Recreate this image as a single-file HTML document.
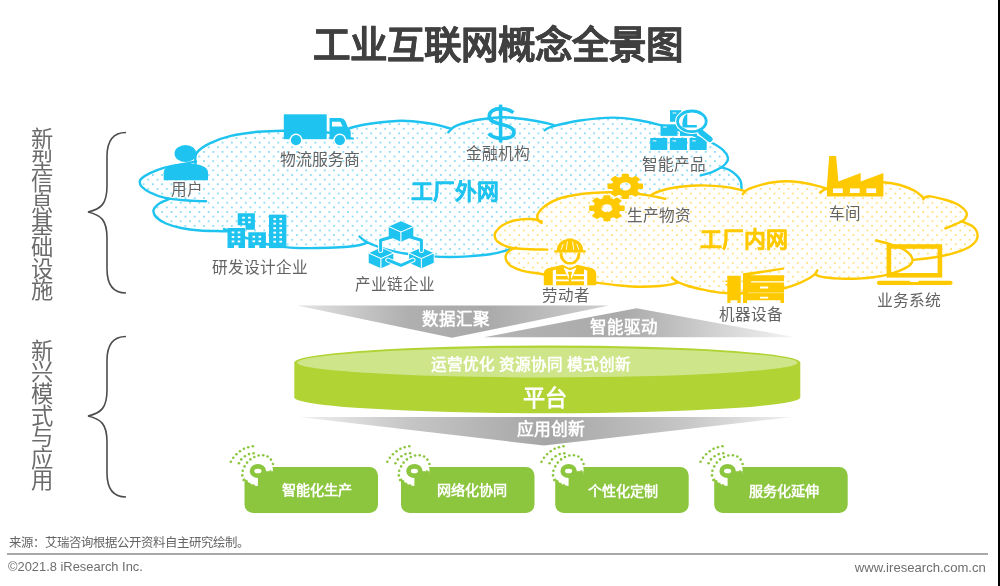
<!DOCTYPE html>
<html lang="zh-CN"><head><meta charset="utf-8"><title>工业互联网概念全景图</title>
<style>
html,body{margin:0;padding:0;background:#fff}
body{width:1000px;height:586px;position:relative;overflow:hidden;font-family:"Liberation Sans",sans-serif}
.t{position:absolute;transform:translate(-50%,-50%);white-space:nowrap;line-height:1}
.f{position:absolute;white-space:nowrap;line-height:1;font-size:12px;color:#6e6e6e}
#w{position:absolute;left:0;top:0;width:998px;height:586px;overflow:hidden;filter:blur(0.45px)}
</style></head><body>
<div id="w">
<svg width="1000" height="586" viewBox="0 0 1000 586" style="position:absolute;left:0;top:0">
<defs>
<pattern id="pb" x="222.56" y="170.37" width="9.29" height="9.25" patternUnits="userSpaceOnUse">
<g fill="#6bd2f3"><circle cx="0" cy="0" r="0.95"/><circle cx="9.29" cy="0" r="0.95"/><circle cx="0" cy="9.25" r="0.95"/><circle cx="9.29" cy="9.25" r="0.95"/><circle cx="4.645" cy="4.625" r="0.95"/></g></pattern>
<pattern id="py" x="221.8" y="170.37" width="9.29" height="9.25" patternUnits="userSpaceOnUse">
<g fill="#ffd95c"><circle cx="0" cy="0" r="0.95"/><circle cx="9.29" cy="0" r="0.95"/><circle cx="0" cy="9.25" r="0.95"/><circle cx="9.29" cy="9.25" r="0.95"/><circle cx="4.645" cy="4.625" r="0.95"/></g></pattern>
<linearGradient id="g1" x1="0" x2="1" y1="0" y2="0"><stop offset="0" stop-color="#e4e4e4"/><stop offset="0.35" stop-color="#b0b0b0"/><stop offset="0.6" stop-color="#a9a9a9"/><stop offset="1" stop-color="#d0d0d0"/></linearGradient>
<linearGradient id="g2" x1="0" x2="1" y1="0" y2="0"><stop offset="0" stop-color="#b4b4b4"/><stop offset="0.45" stop-color="#aaaaaa"/><stop offset="1" stop-color="#f4f4f4"/></linearGradient>
<linearGradient id="g3" x1="0" x2="1" y1="0" y2="0"><stop offset="0" stop-color="#f0f0f0"/><stop offset="0.22" stop-color="#c6c6c6"/><stop offset="0.5" stop-color="#a6a6a6"/><stop offset="0.78" stop-color="#c6c6c6"/><stop offset="1" stop-color="#f0f0f0"/></linearGradient>
</defs>
<path d="M126.0 132.5 C113.0 132.5 107.0 140.5 107.0 156.5 L107.0 186.0 C107.0 204.0 101.0 209.0 88.0 212.0 C101.0 215.0 107.0 220.0 107.0 238.0 L107.0 269.0 C107.0 285.0 113.0 293.0 126.0 293.0" fill="none" stroke="#4d4d4d" stroke-width="1.6"/>
<path d="M126.0 336.5 C113.0 336.5 107.0 344.5 107.0 360.5 L107.0 390.0 C107.0 408.0 101.0 413.0 88.0 416.0 C101.0 419.0 107.0 424.0 107.0 442.0 L107.0 473.0 C107.0 489.0 113.0 497.0 126.0 497.0" fill="none" stroke="#4d4d4d" stroke-width="1.6"/>
<path d="M181.0 164.5C175.5 167.0 168.9 166.4 163.7 167.8C158.5 169.2 153.7 171.4 150.0 173.2C146.3 175.0 143.2 177.0 141.5 178.5C139.8 180.0 139.8 180.7 139.8 182.0C139.8 183.3 139.8 184.8 141.5 186.5C143.2 188.2 146.1 190.6 150.0 192.5C153.9 194.4 159.2 196.5 165.0 197.8C170.8 199.1 185.8 199.4 185.0 200.3C184.2 201.2 165.1 201.7 160.0 203.0C154.9 204.3 155.6 206.5 154.5 208.0C153.4 209.5 153.2 210.4 153.5 212.0C153.8 213.6 154.4 215.6 156.5 217.5C158.6 219.4 161.9 221.8 166.0 223.5C170.1 225.2 175.3 226.8 181.0 228.0C186.7 229.2 193.2 230.0 200.0 230.5C206.8 231.0 216.7 230.9 222.0 231.2C227.3 231.4 228.2 230.9 232.0 232.0C235.8 233.1 240.0 235.7 245.0 237.5C250.0 239.3 255.2 241.4 262.0 243.0C268.8 244.6 278.8 246.2 286.0 247.1C293.2 247.9 297.7 248.0 305.0 248.1C312.3 248.2 322.8 248.0 330.0 247.8C337.2 247.6 343.0 247.3 348.0 246.8C353.0 246.3 356.0 245.4 360.0 245.0C364.0 244.6 367.8 243.7 372.0 244.4C376.2 245.1 379.5 247.5 385.0 249.0C390.5 250.5 397.0 252.3 405.0 253.5C413.0 254.7 425.5 255.8 433.0 256.4C440.5 257.0 444.2 257.0 450.0 257.0C455.8 257.0 461.3 256.8 468.0 256.4C474.7 255.9 483.8 255.2 490.0 254.3C496.2 253.4 500.8 252.0 505.0 250.8C509.2 249.6 499.2 249.1 515.0 247.3C530.8 245.5 562.3 248.6 600.0 240.0C637.7 231.4 717.4 203.8 741.0 196.0C764.6 188.2 741.4 194.2 741.5 193.0C741.6 191.8 741.6 190.4 741.5 188.5C741.4 186.6 741.5 183.5 740.7 181.3C739.9 179.1 738.5 177.3 736.6 175.4C734.7 173.5 731.9 171.3 729.4 170.0C726.9 168.7 722.6 170.6 721.6 167.3C720.6 164.0 725.1 154.4 723.4 150.3C721.7 146.2 715.4 144.6 711.5 142.5C707.6 140.4 704.4 139.8 700.0 138.0C695.6 136.2 691.3 134.1 685.0 132.0C678.7 129.9 669.5 127.4 662.0 125.5C654.5 123.6 648.1 121.8 640.0 120.5C631.9 119.2 623.5 117.6 613.5 117.6C603.5 117.6 590.2 119.0 580.0 120.5C569.8 122.0 557.8 126.2 552.0 126.6C546.2 127.0 548.7 123.9 545.0 122.8C541.3 121.7 536.0 120.9 530.0 120.0C524.0 119.1 514.8 117.9 508.8 117.5C502.8 117.1 500.1 117.2 494.0 117.8C487.9 118.4 478.5 119.6 472.0 121.0C465.5 122.4 459.5 125.4 455.0 126.4C450.5 127.4 449.2 127.5 445.0 127.0C440.8 126.5 437.2 124.5 430.0 123.5C422.8 122.5 412.0 120.7 402.0 120.7C392.0 120.7 378.3 122.6 370.0 123.7C361.7 124.8 361.7 126.2 352.0 127.5C342.3 128.8 323.4 130.7 312.0 131.2C300.6 131.7 292.5 130.6 283.5 130.7C274.5 130.8 266.9 130.9 258.0 131.8C249.1 132.7 238.1 134.3 230.0 136.2C221.9 138.1 215.3 140.6 209.7 143.4C204.1 146.2 201.4 149.5 196.6 153.0C191.8 156.5 186.5 162.0 181.0 164.5Z" fill="#fff"/>
<path d="M181.0 164.5C175.5 167.0 168.9 166.4 163.7 167.8C158.5 169.2 153.7 171.4 150.0 173.2C146.3 175.0 143.2 177.0 141.5 178.5C139.8 180.0 139.8 180.7 139.8 182.0C139.8 183.3 139.8 184.8 141.5 186.5C143.2 188.2 146.1 190.6 150.0 192.5C153.9 194.4 159.2 196.5 165.0 197.8C170.8 199.1 185.8 199.4 185.0 200.3C184.2 201.2 165.1 201.7 160.0 203.0C154.9 204.3 155.6 206.5 154.5 208.0C153.4 209.5 153.2 210.4 153.5 212.0C153.8 213.6 154.4 215.6 156.5 217.5C158.6 219.4 161.9 221.8 166.0 223.5C170.1 225.2 175.3 226.8 181.0 228.0C186.7 229.2 193.2 230.0 200.0 230.5C206.8 231.0 216.7 230.9 222.0 231.2C227.3 231.4 228.2 230.9 232.0 232.0C235.8 233.1 240.0 235.7 245.0 237.5C250.0 239.3 255.2 241.4 262.0 243.0C268.8 244.6 278.8 246.2 286.0 247.1C293.2 247.9 297.7 248.0 305.0 248.1C312.3 248.2 322.8 248.0 330.0 247.8C337.2 247.6 343.0 247.3 348.0 246.8C353.0 246.3 356.0 245.4 360.0 245.0C364.0 244.6 367.8 243.7 372.0 244.4C376.2 245.1 379.5 247.5 385.0 249.0C390.5 250.5 397.0 252.3 405.0 253.5C413.0 254.7 425.5 255.8 433.0 256.4C440.5 257.0 444.2 257.0 450.0 257.0C455.8 257.0 461.3 256.8 468.0 256.4C474.7 255.9 483.8 255.2 490.0 254.3C496.2 253.4 500.8 252.0 505.0 250.8C509.2 249.6 499.2 249.1 515.0 247.3C530.8 245.5 562.3 248.6 600.0 240.0C637.7 231.4 717.4 203.8 741.0 196.0C764.6 188.2 741.4 194.2 741.5 193.0C741.6 191.8 741.6 190.4 741.5 188.5C741.4 186.6 741.5 183.5 740.7 181.3C739.9 179.1 738.5 177.3 736.6 175.4C734.7 173.5 731.9 171.3 729.4 170.0C726.9 168.7 722.6 170.6 721.6 167.3C720.6 164.0 725.1 154.4 723.4 150.3C721.7 146.2 715.4 144.6 711.5 142.5C707.6 140.4 704.4 139.8 700.0 138.0C695.6 136.2 691.3 134.1 685.0 132.0C678.7 129.9 669.5 127.4 662.0 125.5C654.5 123.6 648.1 121.8 640.0 120.5C631.9 119.2 623.5 117.6 613.5 117.6C603.5 117.6 590.2 119.0 580.0 120.5C569.8 122.0 557.8 126.2 552.0 126.6C546.2 127.0 548.7 123.9 545.0 122.8C541.3 121.7 536.0 120.9 530.0 120.0C524.0 119.1 514.8 117.9 508.8 117.5C502.8 117.1 500.1 117.2 494.0 117.8C487.9 118.4 478.5 119.6 472.0 121.0C465.5 122.4 459.5 125.4 455.0 126.4C450.5 127.4 449.2 127.5 445.0 127.0C440.8 126.5 437.2 124.5 430.0 123.5C422.8 122.5 412.0 120.7 402.0 120.7C392.0 120.7 378.3 122.6 370.0 123.7C361.7 124.8 361.7 126.2 352.0 127.5C342.3 128.8 323.4 130.7 312.0 131.2C300.6 131.7 292.5 130.6 283.5 130.7C274.5 130.8 266.9 130.9 258.0 131.8C249.1 132.7 238.1 134.3 230.0 136.2C221.9 138.1 215.3 140.6 209.7 143.4C204.1 146.2 201.4 149.5 196.6 153.0C191.8 156.5 186.5 162.0 181.0 164.5Z" fill="url(#pb)"/>
<path d="M196.0 161.5C193.5 162.0 186.4 163.4 181.0 164.5C175.6 165.6 168.9 166.4 163.7 167.8C158.5 169.2 153.7 171.4 150.0 173.2C146.3 175.0 143.2 177.0 141.5 178.5C139.8 180.0 139.8 180.7 139.8 182.0C139.8 183.3 139.8 184.8 141.5 186.5C143.2 188.2 146.1 190.6 150.0 192.5C153.9 194.4 159.2 196.5 165.0 197.8C170.8 199.1 178.2 199.7 185.0 200.3C191.8 200.9 202.5 201.1 206.0 201.3" fill="none" stroke="#1fc3ef" stroke-width="2.4" stroke-linecap="round"/>
<path d="M195.5 164.0C195.7 162.2 194.2 156.4 196.6 153.0C199.0 149.6 204.1 146.2 209.7 143.4C215.3 140.6 221.9 138.1 230.0 136.2C238.1 134.3 249.1 132.7 258.0 131.8C266.9 130.9 274.5 130.8 283.5 130.7C292.5 130.6 302.9 130.7 312.0 131.2C321.1 131.7 333.7 133.1 338.0 133.5" fill="none" stroke="#1fc3ef" stroke-width="2.4" stroke-linecap="round"/>
<path d="M336.0 135.0C338.7 133.8 346.3 129.4 352.0 127.5C357.7 125.6 361.7 124.8 370.0 123.7C378.3 122.6 392.0 120.7 402.0 120.7C412.0 120.7 422.8 122.5 430.0 123.5C437.2 124.5 441.4 126.1 445.0 127.0C448.6 127.9 450.2 128.5 451.3 128.8" fill="none" stroke="#1fc3ef" stroke-width="2.4" stroke-linecap="round"/>
<path d="M448.3 132.3C449.4 131.3 451.1 128.3 455.0 126.4C458.9 124.5 465.5 122.4 472.0 121.0C478.5 119.6 487.9 118.4 494.0 117.8C500.1 117.2 502.8 117.1 508.8 117.5C514.8 117.9 524.0 119.1 530.0 120.0C536.0 120.9 541.1 122.0 545.0 122.8C548.9 123.6 552.2 124.6 553.6 125.0" fill="none" stroke="#1fc3ef" stroke-width="2.4" stroke-linecap="round"/>
<path d="M544.6 130.3C545.8 129.7 546.1 128.2 552.0 126.6C557.9 125.0 569.8 122.0 580.0 120.5C590.2 119.0 603.5 117.6 613.5 117.6C623.5 117.6 631.9 119.2 640.0 120.5C648.1 121.8 654.5 123.6 662.0 125.5C669.5 127.4 678.7 129.9 685.0 132.0C691.3 134.1 695.6 136.2 700.0 138.0C704.4 139.8 707.6 140.4 711.5 142.5C715.4 144.6 720.6 147.7 723.4 150.3C726.1 152.9 727.6 155.8 728.0 158.0C728.4 160.2 727.0 161.8 725.8 163.4C724.6 165.0 723.4 166.1 721.0 167.6C718.6 169.1 714.9 171.1 711.5 172.4C708.1 173.7 702.5 174.9 700.7 175.4" fill="none" stroke="#1fc3ef" stroke-width="2.4" stroke-linecap="round"/>
<path d="M721.6 167.3C722.9 167.8 726.9 168.7 729.4 170.0C731.9 171.3 734.7 173.5 736.6 175.4C738.5 177.3 739.9 179.1 740.7 181.3C741.5 183.5 741.4 186.6 741.5 188.5C741.6 190.4 741.5 192.2 741.5 193.0" fill="none" stroke="#1fc3ef" stroke-width="2.4" stroke-linecap="round"/>
<path d="M169.5 199.0C167.9 199.7 162.5 201.5 160.0 203.0C157.5 204.5 155.6 206.5 154.5 208.0C153.4 209.5 153.2 210.4 153.5 212.0C153.8 213.6 154.4 215.6 156.5 217.5C158.6 219.4 161.9 221.8 166.0 223.5C170.1 225.2 175.3 226.8 181.0 228.0C186.7 229.2 193.2 230.0 200.0 230.5C206.8 231.0 217.2 231.0 222.0 231.2C226.8 231.3 227.8 231.4 229.0 231.4" fill="none" stroke="#1fc3ef" stroke-width="2.4" stroke-linecap="round"/>
<path d="M224.0 229.0C225.3 229.5 228.5 230.6 232.0 232.0C235.5 233.4 240.0 235.7 245.0 237.5C250.0 239.3 255.2 241.4 262.0 243.0C268.8 244.6 278.8 246.2 286.0 247.1C293.2 247.9 297.7 248.0 305.0 248.1C312.3 248.2 322.8 248.0 330.0 247.8C337.2 247.6 343.0 247.3 348.0 246.8C353.0 246.3 356.8 245.7 360.0 245.0C363.2 244.3 366.2 243.0 367.5 242.6" fill="none" stroke="#1fc3ef" stroke-width="2.4" stroke-linecap="round"/>
<path d="M359.5 236.5C360.4 237.2 362.9 239.7 365.0 241.0C367.1 242.3 368.7 243.1 372.0 244.4C375.3 245.7 379.5 247.5 385.0 249.0C390.5 250.5 397.0 252.3 405.0 253.5C413.0 254.7 425.5 255.8 433.0 256.4C440.5 257.0 444.2 257.0 450.0 257.0C455.8 257.0 461.3 256.8 468.0 256.4C474.7 255.9 483.8 255.2 490.0 254.3C496.2 253.4 500.8 252.0 505.0 250.8C509.2 249.6 513.3 247.9 515.0 247.3" fill="none" stroke="#1fc3ef" stroke-width="2.4" stroke-linecap="round"/>
<path d="M531.2 219.0C527.2 220.1 518.8 219.4 514.0 220.5C509.2 221.6 505.2 223.7 502.2 225.6C499.1 227.5 496.9 230.2 495.7 232.0C494.5 233.8 494.5 234.9 494.8 236.5C495.1 238.1 495.7 239.9 497.5 241.5C499.3 243.1 502.9 244.9 505.6 246.0C508.4 247.1 513.4 247.4 514.0 248.2C514.6 249.0 510.4 249.8 509.0 251.0C507.6 252.2 506.2 253.9 505.8 255.5C505.4 257.1 505.5 258.8 506.3 260.5C507.1 262.2 507.8 264.0 510.5 265.7C513.2 267.4 518.6 269.6 522.7 270.8C526.8 272.0 530.8 272.3 535.0 273.0C539.2 273.7 542.2 274.0 548.0 275.0C553.8 276.0 562.0 277.7 570.0 279.0C578.0 280.3 587.7 281.5 596.0 282.6C604.3 283.7 612.7 284.8 620.0 285.5C627.3 286.2 633.3 286.7 640.0 286.8C646.7 286.9 655.0 286.4 660.0 286.0C665.0 285.6 667.5 285.6 670.0 284.6C672.5 283.7 673.3 280.6 675.0 280.3C676.7 280.0 677.8 282.1 680.0 283.0C682.2 283.9 684.7 285.0 688.0 286.0C691.3 287.0 696.0 288.1 700.0 289.0C704.0 289.9 707.7 290.8 712.0 291.5C716.3 292.2 719.4 292.8 726.0 293.0C732.6 293.2 744.1 293.3 751.4 293.0C758.7 292.7 764.4 292.1 770.0 291.3C775.6 290.5 780.2 289.4 785.2 288.0C790.2 286.6 795.9 284.5 800.0 282.8C804.1 281.1 807.5 279.3 810.0 277.8C812.5 276.3 813.3 274.2 815.0 274.0C816.7 273.8 818.2 275.8 820.0 276.4C821.8 277.0 822.7 277.1 826.0 277.5C829.3 277.9 834.7 278.4 840.0 278.6C845.3 278.8 852.2 278.9 858.0 278.6C863.8 278.3 869.5 277.8 875.0 277.0C880.5 276.2 885.7 275.2 890.7 273.8C895.7 272.4 901.6 269.9 905.0 268.3C908.4 266.7 909.8 265.6 911.0 264.0C912.2 262.4 913.0 260.9 912.5 259.0C912.0 257.1 910.4 254.5 908.0 252.5C905.6 250.5 902.1 248.5 898.4 246.9C894.7 245.3 881.1 241.1 886.0 243.0C890.9 244.9 918.8 256.0 928.0 258.2C937.2 260.4 937.5 256.8 941.5 256.0C945.5 255.2 948.7 254.6 952.0 253.7C955.3 252.8 958.7 251.7 961.4 250.7C964.1 249.7 966.0 249.0 968.0 247.8C970.0 246.6 972.3 245.0 973.7 243.7C975.1 242.4 976.0 241.2 976.6 239.8C977.2 238.4 977.7 236.9 977.6 235.3C977.5 233.8 977.2 232.1 976.3 230.5C975.4 228.9 974.7 227.5 972.2 226.0C969.7 224.5 962.5 222.8 961.4 221.5C960.2 220.2 964.4 219.5 965.3 218.4C966.2 217.3 966.7 216.2 966.8 215.0C966.9 213.8 966.9 212.8 966.0 211.5C965.1 210.2 963.2 208.3 961.4 206.9C959.6 205.5 957.6 204.3 955.0 203.2C952.4 202.0 950.0 201.1 946.0 200.0C942.0 198.9 935.8 197.8 930.7 196.4C925.6 195.0 920.5 193.2 915.4 191.3C910.3 189.4 905.3 186.5 900.0 185.0C894.7 183.5 889.2 182.5 883.4 182.2C877.6 181.9 871.4 182.6 865.0 183.0C858.6 183.4 851.2 183.7 845.0 184.5C838.8 185.3 831.2 187.3 828.0 188.0C824.8 188.7 828.1 188.9 826.0 188.5C823.9 188.1 819.7 186.3 815.4 185.3C811.1 184.3 805.1 183.0 800.0 182.3C794.9 181.6 790.0 181.2 785.0 181.3C780.0 181.4 774.7 182.0 770.0 182.8C765.3 183.6 760.7 184.9 756.9 186.1C753.1 187.2 751.5 189.4 747.3 189.7C743.1 190.0 737.3 188.5 731.8 187.9C726.2 187.3 719.6 186.3 714.0 185.9C708.4 185.5 704.5 185.2 698.0 185.5C691.5 185.8 681.3 186.6 675.0 187.5C668.7 188.4 664.2 189.7 660.0 191.0C655.8 192.3 654.7 195.2 650.0 195.6C645.3 196.0 638.3 193.9 632.0 193.3C625.7 192.8 618.7 192.4 612.0 192.3C605.3 192.2 598.2 192.6 592.0 193.0C585.8 193.4 580.7 194.0 575.0 195.0C569.3 196.0 563.0 197.2 558.0 199.0C553.0 200.8 548.4 203.5 545.0 206.0C541.6 208.5 540.1 211.8 537.8 214.0C535.5 216.2 535.2 217.9 531.2 219.0Z" fill="#fff"/>
<path d="M531.2 219.0C527.2 220.1 518.8 219.4 514.0 220.5C509.2 221.6 505.2 223.7 502.2 225.6C499.1 227.5 496.9 230.2 495.7 232.0C494.5 233.8 494.5 234.9 494.8 236.5C495.1 238.1 495.7 239.9 497.5 241.5C499.3 243.1 502.9 244.9 505.6 246.0C508.4 247.1 513.4 247.4 514.0 248.2C514.6 249.0 510.4 249.8 509.0 251.0C507.6 252.2 506.2 253.9 505.8 255.5C505.4 257.1 505.5 258.8 506.3 260.5C507.1 262.2 507.8 264.0 510.5 265.7C513.2 267.4 518.6 269.6 522.7 270.8C526.8 272.0 530.8 272.3 535.0 273.0C539.2 273.7 542.2 274.0 548.0 275.0C553.8 276.0 562.0 277.7 570.0 279.0C578.0 280.3 587.7 281.5 596.0 282.6C604.3 283.7 612.7 284.8 620.0 285.5C627.3 286.2 633.3 286.7 640.0 286.8C646.7 286.9 655.0 286.4 660.0 286.0C665.0 285.6 667.5 285.6 670.0 284.6C672.5 283.7 673.3 280.6 675.0 280.3C676.7 280.0 677.8 282.1 680.0 283.0C682.2 283.9 684.7 285.0 688.0 286.0C691.3 287.0 696.0 288.1 700.0 289.0C704.0 289.9 707.7 290.8 712.0 291.5C716.3 292.2 719.4 292.8 726.0 293.0C732.6 293.2 744.1 293.3 751.4 293.0C758.7 292.7 764.4 292.1 770.0 291.3C775.6 290.5 780.2 289.4 785.2 288.0C790.2 286.6 795.9 284.5 800.0 282.8C804.1 281.1 807.5 279.3 810.0 277.8C812.5 276.3 813.3 274.2 815.0 274.0C816.7 273.8 818.2 275.8 820.0 276.4C821.8 277.0 822.7 277.1 826.0 277.5C829.3 277.9 834.7 278.4 840.0 278.6C845.3 278.8 852.2 278.9 858.0 278.6C863.8 278.3 869.5 277.8 875.0 277.0C880.5 276.2 885.7 275.2 890.7 273.8C895.7 272.4 901.6 269.9 905.0 268.3C908.4 266.7 909.8 265.6 911.0 264.0C912.2 262.4 913.0 260.9 912.5 259.0C912.0 257.1 910.4 254.5 908.0 252.5C905.6 250.5 902.1 248.5 898.4 246.9C894.7 245.3 881.1 241.1 886.0 243.0C890.9 244.9 918.8 256.0 928.0 258.2C937.2 260.4 937.5 256.8 941.5 256.0C945.5 255.2 948.7 254.6 952.0 253.7C955.3 252.8 958.7 251.7 961.4 250.7C964.1 249.7 966.0 249.0 968.0 247.8C970.0 246.6 972.3 245.0 973.7 243.7C975.1 242.4 976.0 241.2 976.6 239.8C977.2 238.4 977.7 236.9 977.6 235.3C977.5 233.8 977.2 232.1 976.3 230.5C975.4 228.9 974.7 227.5 972.2 226.0C969.7 224.5 962.5 222.8 961.4 221.5C960.2 220.2 964.4 219.5 965.3 218.4C966.2 217.3 966.7 216.2 966.8 215.0C966.9 213.8 966.9 212.8 966.0 211.5C965.1 210.2 963.2 208.3 961.4 206.9C959.6 205.5 957.6 204.3 955.0 203.2C952.4 202.0 950.0 201.1 946.0 200.0C942.0 198.9 935.8 197.8 930.7 196.4C925.6 195.0 920.5 193.2 915.4 191.3C910.3 189.4 905.3 186.5 900.0 185.0C894.7 183.5 889.2 182.5 883.4 182.2C877.6 181.9 871.4 182.6 865.0 183.0C858.6 183.4 851.2 183.7 845.0 184.5C838.8 185.3 831.2 187.3 828.0 188.0C824.8 188.7 828.1 188.9 826.0 188.5C823.9 188.1 819.7 186.3 815.4 185.3C811.1 184.3 805.1 183.0 800.0 182.3C794.9 181.6 790.0 181.2 785.0 181.3C780.0 181.4 774.7 182.0 770.0 182.8C765.3 183.6 760.7 184.9 756.9 186.1C753.1 187.2 751.5 189.4 747.3 189.7C743.1 190.0 737.3 188.5 731.8 187.9C726.2 187.3 719.6 186.3 714.0 185.9C708.4 185.5 704.5 185.2 698.0 185.5C691.5 185.8 681.3 186.6 675.0 187.5C668.7 188.4 664.2 189.7 660.0 191.0C655.8 192.3 654.7 195.2 650.0 195.6C645.3 196.0 638.3 193.9 632.0 193.3C625.7 192.8 618.7 192.4 612.0 192.3C605.3 192.2 598.2 192.6 592.0 193.0C585.8 193.4 580.7 194.0 575.0 195.0C569.3 196.0 563.0 197.2 558.0 199.0C553.0 200.8 548.4 203.5 545.0 206.0C541.6 208.5 540.1 211.8 537.8 214.0C535.5 216.2 535.2 217.9 531.2 219.0Z" fill="url(#py)"/>
<path d="M541.5 221.3C539.8 220.9 535.8 219.1 531.2 219.0C526.6 218.9 518.8 219.4 514.0 220.5C509.2 221.6 505.2 223.7 502.2 225.6C499.1 227.5 496.9 230.2 495.7 232.0C494.5 233.8 494.5 234.9 494.8 236.5C495.1 238.1 495.7 239.9 497.5 241.5C499.3 243.1 502.9 244.9 505.6 246.0C508.4 247.1 509.9 247.7 514.0 248.2C518.1 248.7 524.4 249.0 530.0 249.2C535.6 249.4 544.5 249.5 547.4 249.6" fill="none" stroke="#ffc900" stroke-width="2.4" stroke-linecap="round"/>
<path d="M541.5 223.0C540.9 222.5 538.6 221.5 538.0 220.0C537.4 218.5 536.6 216.3 537.8 214.0C539.0 211.7 541.6 208.5 545.0 206.0C548.4 203.5 553.0 200.8 558.0 199.0C563.0 197.2 569.3 196.0 575.0 195.0C580.7 194.0 585.8 193.4 592.0 193.0C598.2 192.6 605.3 192.2 612.0 192.3C618.7 192.4 625.7 192.8 632.0 193.3C638.3 193.9 644.5 194.7 650.0 195.6C655.5 196.5 662.8 198.3 665.3 198.8" fill="none" stroke="#ffc900" stroke-width="2.4" stroke-linecap="round"/>
<path d="M651.0 195.0C652.5 194.3 656.0 192.2 660.0 191.0C664.0 189.8 668.7 188.4 675.0 187.5C681.3 186.6 691.5 185.8 698.0 185.5C704.5 185.2 708.4 185.5 714.0 185.9C719.6 186.3 726.6 187.1 731.8 187.9C737.0 188.8 742.8 190.5 745.0 191.0" fill="none" stroke="#ffc900" stroke-width="2.4" stroke-linecap="round"/>
<path d="M742.8 194.3C743.5 193.5 744.9 191.1 747.3 189.7C749.6 188.3 753.1 187.2 756.9 186.1C760.7 184.9 765.3 183.6 770.0 182.8C774.7 182.0 780.0 181.4 785.0 181.3C790.0 181.2 794.9 181.6 800.0 182.3C805.1 183.0 811.1 184.3 815.4 185.3C819.7 186.3 822.6 187.3 826.0 188.5C829.4 189.7 834.3 191.8 836.0 192.5" fill="none" stroke="#ffc900" stroke-width="2.4" stroke-linecap="round"/>
<path d="M820.0 192.5C821.3 191.8 823.8 189.3 828.0 188.0C832.2 186.7 838.8 185.3 845.0 184.5C851.2 183.7 858.6 183.4 865.0 183.0C871.4 182.6 877.6 181.9 883.4 182.2C889.2 182.5 894.7 183.5 900.0 185.0C905.3 186.5 911.6 189.2 915.4 191.3C919.2 193.4 921.7 196.5 923.0 197.5" fill="none" stroke="#ffc900" stroke-width="2.4" stroke-linecap="round"/>
<path d="M923.3 199.3C923.6 199.0 923.8 197.8 925.0 197.3C926.2 196.8 927.2 196.0 930.7 196.4C934.2 196.8 942.0 198.9 946.0 200.0C950.0 201.1 952.4 202.0 955.0 203.2C957.6 204.3 959.6 205.5 961.4 206.9C963.2 208.3 965.1 210.2 966.0 211.5C966.9 212.8 966.9 213.8 966.8 215.0C966.7 216.2 966.2 217.3 965.3 218.4C964.4 219.5 963.3 220.4 961.4 221.5C959.5 222.6 956.7 223.7 954.0 224.8C951.3 226.0 946.8 227.8 945.3 228.4" fill="none" stroke="#ffc900" stroke-width="2.4" stroke-linecap="round"/>
<path d="M962.0 221.3C963.7 222.1 969.8 224.5 972.2 226.0C974.6 227.5 975.4 228.9 976.3 230.5C977.2 232.1 977.5 233.8 977.6 235.3C977.7 236.9 977.2 238.4 976.6 239.8C976.0 241.2 975.1 242.4 973.7 243.7C972.3 245.0 970.0 246.6 968.0 247.8C966.0 249.0 964.1 249.7 961.4 250.7C958.7 251.7 955.3 252.8 952.0 253.7C948.7 254.6 945.5 255.2 941.5 256.0C937.5 256.8 932.6 257.6 928.0 258.2C923.4 258.8 916.2 259.6 913.8 259.9" fill="none" stroke="#ffc900" stroke-width="2.4" stroke-linecap="round"/>
<path d="M876.0 240.5C877.7 240.9 882.3 241.9 886.0 243.0C889.7 244.1 894.7 245.3 898.4 246.9C902.1 248.5 905.6 250.5 908.0 252.5C910.4 254.5 912.0 257.1 912.5 259.0C913.0 260.9 912.2 262.4 911.0 264.0C909.8 265.6 908.4 266.7 905.0 268.3C901.6 269.9 895.7 272.4 890.7 273.8C885.7 275.2 880.5 276.2 875.0 277.0C869.5 277.8 863.8 278.3 858.0 278.6C852.2 278.9 845.3 278.8 840.0 278.6C834.7 278.4 829.3 277.9 826.0 277.5C822.7 277.1 821.7 276.8 820.0 276.4C818.3 275.9 816.7 275.1 816.0 274.8" fill="none" stroke="#ffc900" stroke-width="2.4" stroke-linecap="round"/>
<path d="M817.3 270.3C816.9 270.9 816.2 272.8 815.0 274.0C813.8 275.2 812.5 276.3 810.0 277.8C807.5 279.3 804.1 281.1 800.0 282.8C795.9 284.5 790.2 286.6 785.2 288.0C780.2 289.4 775.6 290.5 770.0 291.3C764.4 292.1 758.7 292.7 751.4 293.0C744.1 293.3 732.6 293.2 726.0 293.0C719.4 292.8 716.3 292.2 712.0 291.5C707.7 290.8 704.0 289.9 700.0 289.0C696.0 288.1 691.3 287.0 688.0 286.0C684.7 285.0 682.2 283.9 680.0 283.0C677.8 282.1 676.3 281.2 675.0 280.3C673.7 279.4 672.5 278.2 672.0 277.8" fill="none" stroke="#ffc900" stroke-width="2.4" stroke-linecap="round"/>
<path d="M516.0 247.5C514.8 248.1 510.7 249.7 509.0 251.0C507.3 252.3 506.2 253.9 505.8 255.5C505.4 257.1 505.5 258.8 506.3 260.5C507.1 262.2 507.8 264.0 510.5 265.7C513.2 267.4 518.6 269.6 522.7 270.8C526.8 272.0 530.8 272.3 535.0 273.0C539.2 273.7 542.2 274.0 548.0 275.0C553.8 276.0 562.0 277.7 570.0 279.0C578.0 280.3 587.7 281.5 596.0 282.6C604.3 283.7 612.7 284.8 620.0 285.5C627.3 286.2 633.3 286.7 640.0 286.8C646.7 286.9 655.0 286.4 660.0 286.0C665.0 285.6 667.0 285.2 670.0 284.6C673.0 284.0 676.5 282.9 677.8 282.6" fill="none" stroke="#ffc900" stroke-width="2.4" stroke-linecap="round"/>
<g fill="#1fc3ef"><ellipse cx="185.5" cy="153.5" rx="11" ry="8.6"/><path d="M163.7 180.2V172.5C163.7 166.5 173 163.6 186 163.6C199 163.6 208 166.5 208 172.5V180.2Z"/></g>
<g fill="#1fc3ef"><rect x="283.8" y="114.3" width="42.9" height="24.9"/><path d="M329.5 139.2V118H340.5Q344.5 118.3 346 122.5L348.3 128.5L350.7 131V137.3L354 137.8V139.4Z"/><path d="M332 121.8H340.3L342.6 126.4H332Z" fill="#fff"/><circle cx="296" cy="140" r="6.4" fill="#fff"/><circle cx="339.8" cy="140" r="6.4" fill="#fff"/><circle cx="296" cy="140.2" r="5.1"/><circle cx="339.8" cy="140.2" r="5.1"/></g>
<g fill="none" stroke="#1fc3ef" stroke-width="3.7"><path d="M513.4 112.6C509.5 109.6 505 108.6 500.6 108.6C493.6 108.6 489.3 111.8 489.3 116.2C489.3 121 494.3 122.6 501.3 124.2C508.3 125.8 514 127.8 514 132.4C514 136.6 508.5 138.5 502 138.5C496.2 138.5 491.6 136.8 488.6 133.6"/><path d="M500.6 104.6V142.4" stroke-width="3.6"/></g>
<rect x="650.2" y="138.0" width="17.1" height="12.0" fill="#1fc3ef"/><rect x="652.8" y="140.0" width="3.6" height="1.6" fill="#a9e7f9"/><rect x="669.9" y="138.0" width="17.1" height="12.0" fill="#1fc3ef"/><rect x="672.5" y="140.0" width="3.6" height="1.6" fill="#a9e7f9"/><rect x="689.6" y="138.0" width="17.1" height="12.0" fill="#1fc3ef"/><rect x="692.2" y="140.0" width="3.6" height="1.6" fill="#a9e7f9"/><rect x="660.5" y="124.3" width="17.0" height="11.6" fill="#1fc3ef"/><rect x="663.1" y="126.3" width="3.6" height="1.6" fill="#a9e7f9"/><rect x="680.0" y="124.3" width="17.0" height="11.6" fill="#1fc3ef"/><rect x="682.6" y="126.3" width="3.6" height="1.6" fill="#a9e7f9"/><rect x="670.0" y="110.2" width="11.4" height="11.6" fill="#1fc3ef"/><rect x="672.6" y="112.2" width="3.6" height="1.6" fill="#a9e7f9"/>
<path d="M700 131.5L710 139.5" stroke="#fff" stroke-width="8" stroke-linecap="round"/>
<ellipse cx="691.9" cy="121.3" rx="16.8" ry="12.6" fill="#fff"/>
<ellipse cx="691.9" cy="121.3" rx="14.3" ry="10.3" fill="#fff" stroke="#1fc3ef" stroke-width="2.8"/>
<path d="M701 132.2L709.8 139.3" stroke="#1fc3ef" stroke-width="5.6" stroke-linecap="round"/>
<path d="M687.3 113.5V125H696.8V127.4H682.5Q681.5 117 687.3 113.5Z" fill="#1fc3ef"/>
<g fill="#1fc3ef"><path d="M237.7 213.3H254.9V229.7H245.5V225.2H237.7Z"/><path d="M227.5 227.9H245V248.1H238.5V245.3H234V248.1H227.5Z"/><path d="M248.3 232.3H265.9V248.1H259.3V245.3H254.9V248.1H248.3Z"/><rect x="269" y="214.6" width="17.4" height="33.5"/></g><rect x="242.2" y="216.8" width="2.6" height="1.9" fill="#fff"/><rect x="248.1" y="216.8" width="2.6" height="1.9" fill="#fff"/><rect x="242.2" y="221.3" width="2.6" height="1.9" fill="#fff"/><rect x="248.1" y="221.3" width="2.6" height="1.9" fill="#fff"/><rect x="231.7" y="231.5" width="2.6" height="1.9" fill="#fff"/><rect x="237.7" y="231.5" width="2.6" height="1.9" fill="#fff"/><rect x="231.7" y="236.0" width="2.6" height="1.9" fill="#fff"/><rect x="237.7" y="236.0" width="2.6" height="1.9" fill="#fff"/><rect x="231.7" y="240.5" width="2.6" height="1.9" fill="#fff"/><rect x="237.7" y="240.5" width="2.6" height="1.9" fill="#fff"/><rect x="252.5" y="235.8" width="2.6" height="1.9" fill="#fff"/><rect x="258.5" y="235.8" width="2.6" height="1.9" fill="#fff"/><rect x="252.5" y="240.3" width="2.6" height="1.9" fill="#fff"/><rect x="258.5" y="240.3" width="2.6" height="1.9" fill="#fff"/><rect x="273.4" y="218.2" width="2.6" height="1.9" fill="#fff"/><rect x="279.4" y="218.2" width="2.6" height="1.9" fill="#fff"/><rect x="273.4" y="222.7" width="2.6" height="1.9" fill="#fff"/><rect x="279.4" y="222.7" width="2.6" height="1.9" fill="#fff"/><rect x="273.4" y="227.2" width="2.6" height="1.9" fill="#fff"/><rect x="279.4" y="227.2" width="2.6" height="1.9" fill="#fff"/><rect x="273.4" y="231.7" width="2.6" height="1.9" fill="#fff"/><rect x="279.4" y="231.7" width="2.6" height="1.9" fill="#fff"/><rect x="273.4" y="236.2" width="2.6" height="1.9" fill="#fff"/><rect x="279.4" y="236.2" width="2.6" height="1.9" fill="#fff"/><rect x="273.4" y="240.7" width="2.6" height="1.9" fill="#fff"/><rect x="279.4" y="240.7" width="2.6" height="1.9" fill="#fff"/>
<g stroke="#fff" stroke-width="0.9" stroke-linejoin="round" fill="#1fc3ef"><path d="M381.0 247.2L393.8 252.9L381.0 258.6L368.2 252.9Z"/><path d="M368.2 252.9L381.0 258.6L381.0 268.8L368.2 263.1Z"/><path d="M393.8 252.9L381.0 258.6L381.0 268.8L393.8 263.1Z"/></g><g stroke="#fff" stroke-width="0.9" stroke-linejoin="round" fill="#1fc3ef"><path d="M421.4 247.2L434.2 252.9L421.4 258.6L408.6 252.9Z"/><path d="M408.6 252.9L421.4 258.6L421.4 268.8L408.6 263.1Z"/><path d="M434.2 252.9L421.4 258.6L421.4 268.8L434.2 263.1Z"/></g><path d="M395 236L380.6 240.3V250.5" fill="none" stroke="#fff" stroke-width="5" stroke-linecap="round" stroke-linejoin="round"/><path d="M407 236L421.4 240.3V250.5" fill="none" stroke="#fff" stroke-width="5" stroke-linecap="round" stroke-linejoin="round"/><path d="M387.8 260L401 265.3L413 260" fill="none" stroke="#fff" stroke-width="5" stroke-linecap="round" stroke-linejoin="round"/><g stroke="#fff" stroke-width="0.9" stroke-linejoin="round" fill="#1fc3ef"><path d="M401.0 220.7L413.8 226.4L401.0 232.1L388.2 226.4Z"/><path d="M388.2 226.4L401.0 232.1L401.0 242.3L388.2 236.6Z"/><path d="M413.8 226.4L401.0 232.1L401.0 242.3L413.8 236.6Z"/></g><path d="M395 236L380.6 240.3V250.5" fill="none" stroke="#1fc3ef" stroke-width="3" stroke-linecap="round" stroke-linejoin="round"/><path d="M407 236L421.4 240.3V250.5" fill="none" stroke="#1fc3ef" stroke-width="3" stroke-linecap="round" stroke-linejoin="round"/><path d="M387.8 260L401 265.3L413 260" fill="none" stroke="#1fc3ef" stroke-width="3" stroke-linecap="round" stroke-linejoin="round"/>
<path d="M638.0 184.3L642.3 184.4L642.3 188.2L638.0 188.3L636.4 191.1L639.2 193.3L635.4 195.9L632.2 194.0L628.3 195.1L628.0 198.1L622.6 198.1L622.3 195.1L618.4 194.0L615.2 195.9L611.4 193.3L614.2 191.1L612.6 188.3L608.3 188.2L608.3 184.4L612.6 184.3L614.2 181.5L611.4 179.3L615.2 176.7L618.4 178.6L622.3 177.5L622.6 174.5L628.0 174.5L628.3 177.5L632.2 178.6L635.4 176.7L639.2 179.3L636.4 181.5ZM619.0 186.3A6.3 4.9 0 1 0 631.6 186.3A6.3 4.9 0 1 0 619.0 186.3Z" fill="#ffc900" fill-rule="evenodd" stroke="#ffc900" stroke-width="1.6" stroke-linejoin="round"/>
<path d="M619.6 206.1L623.9 206.3L623.9 210.1L619.6 210.3L618.0 213.2L620.8 215.5L617.0 218.2L613.8 216.2L609.9 217.4L609.6 220.4L604.2 220.4L603.9 217.4L600.0 216.2L596.8 218.2L593.0 215.5L595.8 213.2L594.2 210.3L589.9 210.1L589.9 206.3L594.2 206.1L595.8 203.2L593.0 200.9L596.8 198.2L600.0 200.2L603.9 199.0L604.2 196.0L609.6 196.0L609.9 199.0L613.8 200.2L617.0 198.2L620.8 200.9L618.0 203.2ZM600.6 208.2A6.3 4.8 0 1 0 613.2 208.2A6.3 4.8 0 1 0 600.6 208.2Z" fill="#ffc900" fill-rule="evenodd" stroke="#ffc900" stroke-width="1.6" stroke-linejoin="round"/>
<g fill="#ffc900"><path d="M554.3 252.4H585.7V250.2H583.2C583 243.5 578 239.6 573 239.2V238.6H567V239.2C562 239.6 557 243.5 556.8 250.2H554.3Z"/><path d="M559.5 252.4C559.5 259.5 564 264.6 570 264.6C576 264.6 580.5 259.5 580.5 252.4H577.6C577.6 258 574.5 262 570 262C565.5 262 562.4 258 562.4 252.4Z"/><path d="M543.8 285.2V274C543.8 270.5 546 268.8 549 268L562.5 264.8L570 268.3L577.5 264.8L591 268C594 268.8 596.2 270.5 596.2 274V285.2Z"/></g><path d="M552.8 285.2V270.5L556 269.5V285.2ZM584 285.2V269.5L587.2 270.5V285.2Z" fill="#fff"/><path d="M563.5 267.5L570 282L576.5 267.5L570 270.3Z" fill="#fff"/><path d="M567.8 271.8H572.2L571 276L572 283.5L570 285.2L568 283.5L569 276Z" fill="#ffc900"/><path d="M556 274.3H566.2L567 276H556ZM574 274.3H584V276H573.2ZM556 279.5H568.5L569 281.2H556ZM571.5 279.5H584V281.2H571Z" fill="#fff"/><path d="M566.3 249.8L567.4 241.5M573.7 249.8L572.6 241.5M561 249.8L563.3 244M579 249.8L576.7 244" stroke="#fff" stroke-width="0.9" fill="none"/>
<path d="M826.9 196.6V186L829.2 156.1H836.1L838.4 181.6L860.7 173V181.6L883.4 173V196.6Z" fill="#ffc900"/><rect x="833.0" y="188.4" width="9.8" height="4.6" fill="#fff"/><rect x="849.9" y="188.4" width="9.8" height="4.6" fill="#fff"/><rect x="866.4" y="188.4" width="9.8" height="4.6" fill="#fff"/>
<rect x="888.9" y="246.5" width="51" height="28.8" fill="none" stroke="#ffc900" stroke-width="4.6"/>
<path d="M879 280.7H909.5L910.5 281.9H918L919 280.7H950.5A2.1 2.1 0 0 1 950.5 285H879A2.1 2.1 0 0 1 879 280.7Z" fill="#ffc900"/>
<g fill="#ffc900"><path d="M727.3 275.8H740.7V303H737.5V300.3H730.5V303H727.3Z"/><path d="M725.5 280.5H727.5V282H725.5ZM725.5 284H727.5V285.5H725.5Z"/><path d="M743 273.3L783.5 267.6L784.3 269.6L750 275.2H784V303H780.5V300.3H747V303H743Z"/></g><path d="M751 281.3H784V282.5H751Z" fill="#fff"/><path d="M748 292.2H784V293.2H748Z" fill="#fff" opacity="0.45"/><path d="M760 286.5H768.2V288.4H760ZM760 296.8H768.2V298.5H760Z" fill="#fff"/>
<path d="M297 305.4L609 305.4L452 337.8Z" fill="url(#g1)"/>
<path d="M484 337.3L636.6 308.2L795 337.3Z" fill="url(#g2)"/>
<path d="M299 417L793 417L544 445.6Z" fill="url(#g3)"/>
<path d="M294.3 362.5L294.3 397.4A253 15.8 0 0 0 800.3 397.4L800.3 362.5Z" fill="#b1d334"/>
<ellipse cx="547.3" cy="362.5" rx="253" ry="17" fill="#b1d334"/>
<ellipse cx="547.3" cy="362.6" rx="250.3" ry="14.8" fill="#cee58a"/>
<defs><g id="btn"><rect x="0" y="0" width="133.5" height="46" rx="8.5" fill="#8cc63f"/>
<circle cx="13.5" cy="4" r="15" fill="#fff"/>
<path d="M13.4 3.6 L29 3.6 L29 1 L24 1 L24 -1 L13.4 -1Z" fill="#8cc63f" opacity="0"/>
<path d="M13.4 4.2 L28.5 4.2 L28.5 20 L13.4 20Z" fill="#8cc63f"/>
<ellipse cx="13.4" cy="4" rx="8.2" ry="7" fill="#8cc63f"/>
<ellipse cx="13.4" cy="4" rx="3.6" ry="2.3" fill="#fff"/>
<path d="M1.2 13.2h2v2h-2zM4.2 15.8h2v2h-2zM7.8 17.2h2v2h-2zM25 3.2h1.8v1.4h-1.8z" fill="#8cc63f"/>
</g></defs>
<defs><g id="sig" fill="#8cc63f"><circle cx="-0.9" cy="13.1" r="1.3"/><circle cx="-2.2" cy="8.4" r="1.3"/><circle cx="-1.8" cy="3.8" r="1.3"/><circle cx="0.1" cy="-0.6" r="1.3"/><circle cx="2.6" cy="-4.4" r="1.3"/><circle cx="5.9" cy="-7.6" r="1.3"/><circle cx="9.8" cy="-10.0" r="1.3"/><circle cx="14.1" cy="-11.5" r="1.3"/><circle cx="18.7" cy="-11.8" r="1.3"/><circle cx="23.1" cy="-10.5" r="1.3"/><circle cx="26.4" cy="-7.4" r="1.3"/><circle cx="28.4" cy="-3.0" r="1.3"/><circle cx="-5.6" cy="-3.8" r="1.3"/><circle cx="-3.2" cy="-7.6" r="1.3"/><circle cx="0.4" cy="-10.7" r="1.3"/><circle cx="4.5" cy="-12.9" r="1.3"/><circle cx="9.1" cy="-13.8" r="1.3"/><circle cx="-13.7" cy="-5.2" r="1.3"/><circle cx="-11.2" cy="-9.3" r="1.3"/><circle cx="-8.1" cy="-12.7" r="1.3"/><circle cx="-4.5" cy="-15.8" r="1.3"/><circle cx="-0.6" cy="-18.2" r="1.3"/><circle cx="3.7" cy="-19.7" r="1.3"/><circle cx="8.3" cy="-20.7" r="1.3"/></g></defs>
<use href="#btn" x="244.5" y="467"/><use href="#sig" x="244.5" y="467"/>
<use href="#btn" x="401.0" y="467"/><use href="#sig" x="401.0" y="467"/>
<use href="#btn" x="555.2" y="467"/><use href="#sig" x="555.2" y="467"/>
<use href="#btn" x="714.2" y="467"/><use href="#sig" x="714.2" y="467"/>
</svg>
<div class="t" style="left:498.3px;top:45.5px;font-size:37.5px;color:#404040;font-weight:bold;-webkit-text-stroke:0.5px #404040;">工业互联网概念全景图</div>
<div class="t" style="left:187.0px;top:190.0px;font-size:15.6px;color:#636363;">用户</div>
<div class="t" style="left:319.7px;top:160.0px;font-size:15.9px;color:#636363;">物流服务商</div>
<div class="t" style="left:498.2px;top:153.7px;font-size:15.8px;color:#636363;">金融机构</div>
<div class="t" style="left:674.0px;top:165.2px;font-size:15.6px;color:#636363;">智能产品</div>
<div class="t" style="left:260.0px;top:267.5px;font-size:15.7px;color:#636363;">研发设计企业</div>
<div class="t" style="left:394.7px;top:285.0px;font-size:15.6px;color:#636363;">产业链企业</div>
<div class="t" style="left:658.9px;top:216.0px;font-size:15.7px;color:#636363;">生产物资</div>
<div class="t" style="left:845.3px;top:213.7px;font-size:15.5px;color:#636363;">车间</div>
<div class="t" style="left:565.8px;top:296.1px;font-size:15.5px;color:#636363;">劳动者</div>
<div class="t" style="left:750.6px;top:315.0px;font-size:15.6px;color:#636363;">机器设备</div>
<div class="t" style="left:908.8px;top:301.0px;font-size:15.8px;color:#636363;">业务系统</div>
<div class="t" style="left:455.0px;top:191.6px;font-size:21.8px;color:#1fc3ef;font-weight:bold;-webkit-text-stroke:0.35px #1fc3ef;">工厂外网</div>
<div class="t" style="left:743.7px;top:240.4px;font-size:21.9px;color:#ffc900;font-weight:bold;-webkit-text-stroke:0.35px #ffc900;">工厂内网</div>
<div class="t" style="left:456.0px;top:319.0px;font-size:16.5px;color:#fff;font-weight:bold;">数据汇聚</div>
<div class="t" style="left:623.5px;top:326.5px;font-size:16.5px;color:#fff;font-weight:bold;">智能驱动</div>
<div class="t" style="left:531.0px;top:365.0px;font-size:15.6px;color:#fff;font-weight:bold;">运营优化 资源协同 模式创新</div>
<div class="t" style="left:545.0px;top:398.5px;font-size:22.2px;color:#fff;font-weight:bold;">平台</div>
<div class="t" style="left:551.0px;top:430.2px;font-size:16.8px;color:#fff;font-weight:bold;">应用创新</div>
<div class="t" style="left:316.8px;top:489.7px;font-size:14.1px;color:#fff;font-weight:bold;">智能化生产</div>
<div class="t" style="left:472.0px;top:489.7px;font-size:14.1px;color:#fff;font-weight:bold;">网络化协同</div>
<div class="t" style="left:622.6px;top:491.2px;font-size:14.1px;color:#fff;font-weight:bold;">个性化定制</div>
<div class="t" style="left:784.0px;top:491.2px;font-size:14.1px;color:#fff;font-weight:bold;">服务化延伸</div>
<div class="t" style="left:42.3px;top:140.1px;font-size:22.3px;color:#6b6b6b;">新</div>
<div class="t" style="left:42.3px;top:161.6px;font-size:22.3px;color:#6b6b6b;">型</div>
<div class="t" style="left:42.3px;top:183.2px;font-size:22.3px;color:#6b6b6b;">信</div>
<div class="t" style="left:42.3px;top:204.8px;font-size:22.3px;color:#6b6b6b;">息</div>
<div class="t" style="left:42.3px;top:226.3px;font-size:22.3px;color:#6b6b6b;">基</div>
<div class="t" style="left:42.3px;top:247.9px;font-size:22.3px;color:#6b6b6b;">础</div>
<div class="t" style="left:42.3px;top:269.5px;font-size:22.3px;color:#6b6b6b;">设</div>
<div class="t" style="left:42.3px;top:291.0px;font-size:22.3px;color:#6b6b6b;">施</div>
<div class="t" style="left:42.3px;top:351.8px;font-size:22.3px;color:#6b6b6b;">新</div>
<div class="t" style="left:42.3px;top:373.4px;font-size:22.3px;color:#6b6b6b;">兴</div>
<div class="t" style="left:42.3px;top:394.9px;font-size:22.3px;color:#6b6b6b;">模</div>
<div class="t" style="left:42.3px;top:416.5px;font-size:22.3px;color:#6b6b6b;">式</div>
<div class="t" style="left:42.3px;top:438.1px;font-size:22.3px;color:#6b6b6b;">与</div>
<div class="t" style="left:42.3px;top:459.6px;font-size:22.3px;color:#6b6b6b;">应</div>
<div class="t" style="left:42.3px;top:481.2px;font-size:22.3px;color:#6b6b6b;">用</div>
<div class="f" style="left:9px;top:536.8px;color:#646464;font-size:12.4px">来源：艾瑞咨询根据公开资料自主研究绘制。</div>
<div style="position:absolute;left:7px;top:553.3px;width:981px;height:1.6px;background:#a9a9a9"></div>
<div class="f" style="left:8px;top:561px;font-size:12.9px">©2021.8 iResearch Inc.</div>
<div class="f" style="right:12.2px;top:561px;font-size:13.1px">www.iresearch.com.cn</div>
</div>
<div style="position:absolute;left:998px;top:0;width:2px;height:586px;background:#000"></div>
</body></html>
